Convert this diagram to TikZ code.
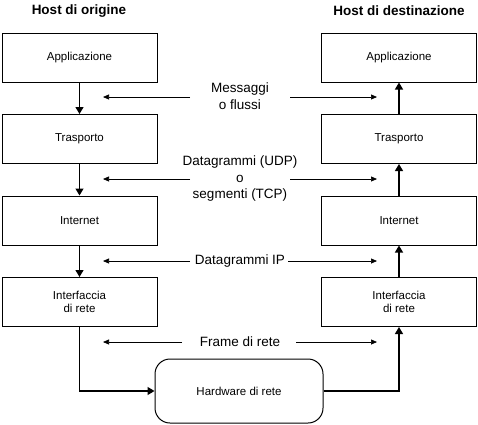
\documentclass[tikz,border=0pt]{standalone}
\usepackage{fontspec}
\setmainfont{Liberation Sans}
\usetikzlibrary{arrows.meta}
\begin{document}
\begin{tikzpicture}[x=1pt,y=-1pt,
  layerbox/.style={draw,line width=1pt,minimum width=155pt,minimum height=49pt,inner sep=0pt,font=\fontsize{11.5}{13.5}\selectfont,align=center},
  hwbox/.style={draw,line width=1pt,rounded corners=15pt,minimum width=168pt,minimum height=64pt,inner sep=0pt,font=\fontsize{11.5}{13.5}\selectfont},
  flow/.style={line width=1.3pt,-{Triangle[length=7pt,width=8pt]}},
  msg/.style={line width=0.7pt,-{Triangle[length=6pt,width=5pt]}},
  lbl/.style={font=\fontsize{13.5}{16.5}\selectfont,align=center,inner sep=1pt},
  ttl/.style={font=\fontsize{13.5}{15}\bfseries\selectfont}]
\useasboundingbox (0,0) rectangle (478,424);
\node[ttl] (t1) at (79,11) {Host di origine};
\node[ttl] (t2) at (399,11) {Host di destinazione};
\node[layerbox] (a1) at (79.5,57.5) {Applicazione};
\node[layerbox] (b1) at (79.5,139) {Trasporto};
\node[layerbox] (c1) at (79.5,220.5) {Internet};
\node[layerbox] (d1) at (79.5,302) {Interfaccia\\di rete};
\node[layerbox] (a2) at (399,57.5) {Applicazione};
\node[layerbox] (b2) at (399,139) {Trasporto};
\node[layerbox] (c2) at (399,220.5) {Internet};
\node[layerbox] (d2) at (399,302) {Interfaccia\\di rete};
\node[hwbox] (hw) at (239,391) {Hardware di rete};
\draw[flow] (a1) -- (b1);
\draw[flow] (b1) -- (c1);
\draw[flow] (c1) -- (d1);
\draw[flow] (d1.south) |- (hw.west);
\draw[flow] (b2) -- (a2);
\draw[flow] (c2) -- (b2);
\draw[flow] (d2) -- (c2);
\draw[flow] (hw.east) -| (d2.south);
\node[lbl] (m1) at (240,96) {Messaggi\\o flussi};
\node[lbl] (m2) at (240,179) {Datagrammi (UDP)\\o\\segmenti (TCP)};
\node[lbl] (m3) at (240,261) {Datagrammi IP};
\node[lbl] (m4) at (240,342) {Frame di rete};
\coordinate (m1l) at (103,97); \coordinate (m1r) at (377,97);
\coordinate (m2l) at (103,179); \coordinate (m2r) at (377,179);
\coordinate (m3l) at (103,261); \coordinate (m3r) at (377,261);
\coordinate (m4l) at (103,342); \coordinate (m4r) at (377,342);
\draw[msg] (190,97) -- (m1l);
\draw[msg] (290,97) -- (m1r);
\draw[msg] (190,179) -- (m2l);
\draw[msg] (290,179) -- (m2r);
\draw[msg] (190,261) -- (m3l);
\draw[msg] (288,261) -- (m3r);
\draw[msg] (182,342) -- (m4l);
\draw[msg] (296,342) -- (m4r);
\end{tikzpicture}
\end{document}
